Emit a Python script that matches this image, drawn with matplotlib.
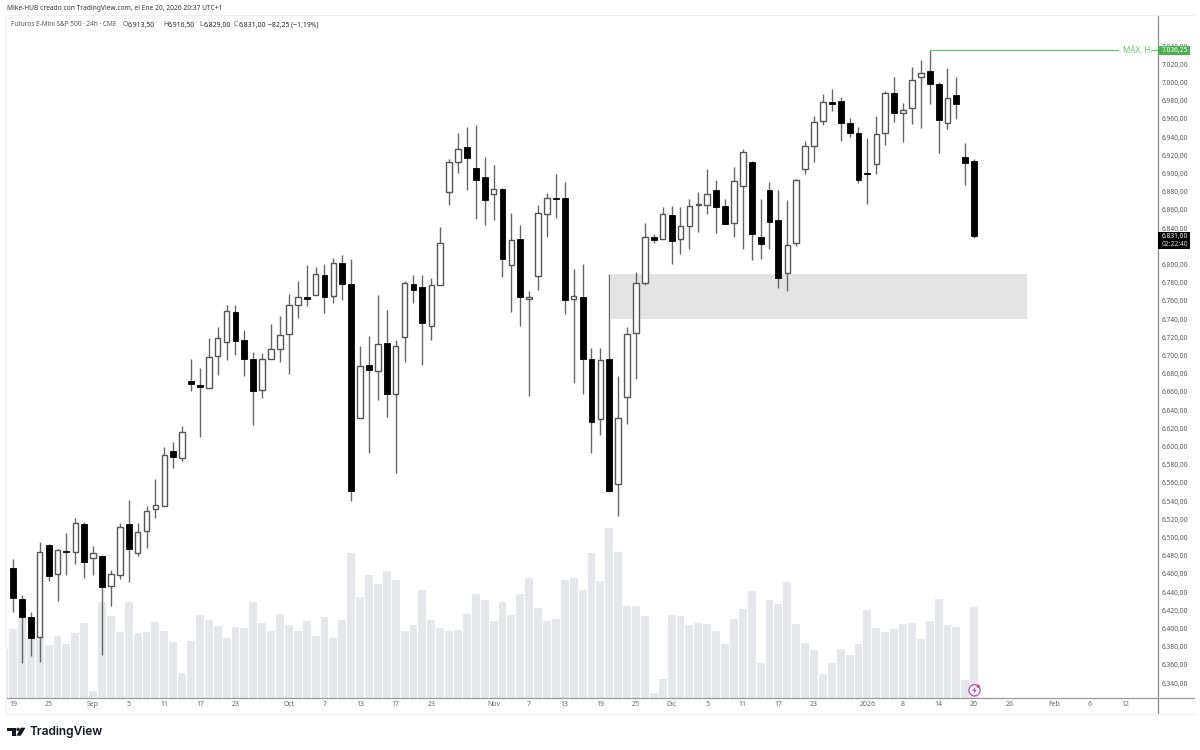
import numpy as np
import matplotlib
matplotlib.use('Agg')
import matplotlib.pyplot as plt
from matplotlib.patches import Rectangle, Polygon, Circle

plt.rcParams['font.family'] = ['Noto Sans', 'DejaVu Sans']

# --- datos (velas diarias, ago 2025 - ene 2026) ---
opens = [6467, 6432, 6413, 6391, 6492, 6460, 6485, 6484, 6515, 6477,
         6480, 6447, 6459, 6515, 6483, 6507, 6531, 6535, 6595, 6587,
         6672, 6668, 6664, 6699, 6715, 6748, 6717, 6696, 6662, 6696,
         6707, 6724, 6756, 6764, 6767, 6788, 6765, 6802, 6779, 6631,
         6690, 6683, 6714, 6658, 6720, 6779, 6775, 6732, 6777, 6880,
         6913, 6929, 6906, 6896, 6877, 6883, 6800, 6828, 6762, 6787,
         6856, 6873, 6873, 6762, 6764, 6696, 6630, 6696, 6559, 6654,
         6725, 6780, 6830, 6828, 6854, 6828, 6842, 6865, 6865, 6882,
         6864, 6846, 6886, 6913, 6830, 6882, 6849, 6791, 6824, 6905,
         6930, 6958, 6979, 6980, 6956, 6945, 6901, 6911, 6945, 6988,
         6967, 6972, 7006, 7013, 6998, 6955, 6986, 6918, 6913.5]
highs = [6476, 6437, 6418, 6495, 6493, 6487, 6505, 6521, 6517, 6491,
         6481, 6464, 6516, 6541, 6516, 6535, 6564, 6599, 6605, 6623,
         6696, 6686, 6719, 6731, 6756, 6755, 6728, 6704, 6703, 6735,
         6743, 6768, 6782, 6800, 6797, 6801, 6807, 6811, 6806, 6710,
         6722, 6766, 6750, 6717, 6782, 6789, 6788, 6785, 6841, 6916,
         6944, 6951, 6953, 6918, 6909, 6884, 6857, 6843, 6771, 6865,
         6879, 6900, 6891, 6795, 6801, 6708, 6708, 6790, 6677, 6731,
         6792, 6846, 6833, 6863, 6864, 6863, 6872, 6880, 6905, 6893,
         6872, 6907, 6927, 6914, 6872, 6891, 6882, 6871, 6894, 6936,
         6963, 6987, 6993, 6984, 6961, 6951, 6939, 6963, 6991, 7006,
         6977, 7017, 7025, 7036.25, 7001, 7016, 7006, 6934, 6916.5]
lows = [6418, 6362, 6370, 6363, 6452, 6430, 6459, 6471, 6455, 6459,
        6371, 6425, 6454, 6451, 6480, 6488, 6521, 6535, 6576, 6584,
        6661, 6610, 6664, 6679, 6695, 6701, 6677, 6624, 6653, 6696,
        6693, 6680, 6741, 6754, 6767, 6747, 6758, 6761, 6540, 6631,
        6593, 6651, 6632, 6571, 6693, 6758, 6690, 6717, 6777, 6865,
        6901, 6882, 6850, 6843, 6849, 6786, 6748, 6733, 6655, 6772,
        6830, 6851, 6746, 6670, 6658, 6593, 6613, 6550, 6524, 6625,
        6674, 6778, 6824, 6828, 6801, 6812, 6817, 6836, 6856, 6835,
        6844, 6830, 6817, 6805, 6806, 6817, 6774, 6771, 6820, 6900,
        6913, 6953, 6969, 6936, 6940, 6890, 6866, 6899, 6931, 6957,
        6935, 6954, 6950, 6976, 6923, 6949, 6960, 6887, 6829]
closes = [6434, 6413, 6390, 6484, 6458, 6486, 6484, 6516, 6473, 6483,
          6446, 6460, 6512, 6487, 6506, 6529, 6536, 6591, 6588, 6616,
          6669, 6665, 6698, 6719, 6749, 6716, 6696, 6661, 6696, 6707,
          6723, 6756, 6764, 6762, 6790, 6764, 6802, 6779, 6551, 6689,
          6684, 6713, 6658, 6710, 6780, 6772, 6736, 6777, 6824, 6913,
          6927, 6917, 6893, 6871, 6883, 6806, 6827, 6764, 6764, 6857,
          6873, 6872, 6761, 6765, 6696, 6627, 6695, 6551, 6631, 6724,
          6780, 6830, 6827, 6856, 6826, 6842, 6864, 6866, 6878, 6863,
          6845, 6892, 6924, 6833, 6823, 6847, 6785, 6822, 6893, 6930,
          6957, 6979, 6976, 6956, 6945, 6893, 6900, 6943, 6988, 6966,
          6970, 7003, 7010, 6998, 6959, 6983, 6976, 6912, 6831]

# volumen en unidades arbitrarias, el primero es la barra cortada del borde
volumen = [49, 69, 82, 60, 62, 53, 62, 54, 65, 75, 7,
           96, 82, 66, 96, 65, 66, 76, 67, 56, 25,
           57, 83, 78, 72, 60, 71, 70, 96, 75, 67,
           84, 73, 67, 77, 62, 81, 60, 78, 145, 101,
           123, 114, 127, 118, 67, 73, 108, 78, 70, 67,
           68, 84, 104, 98, 77, 96, 83, 104, 120, 90,
           77, 79, 118, 120, 108, 145, 117, 170, 146, 92,
           92, 82, 5, 19, 83, 82, 73, 75, 74, 67,
           54, 79, 89, 107, 35, 98, 94, 116, 74, 55,
           48, 24, 35, 49, 43, 54, 88, 70, 66, 69,
           74, 75, 59, 77, 99, 73, 71, 18, 91]

fechas_pos = [0, 4, 9, 13, 17, 21, 25, 31, 35, 39, 43, 47, 54, 58, 62, 66, 70,
              74, 78, 82, 86, 90, 96, 100, 104, 108, 112, 117, 121, 125]
fechas_txt = ['19', '25', 'Sep', '5', '11', '17', '23', 'Oct', '7', '13', '17', '23',
              'Nov', '7', '13', '19', '25', 'Dic', '5', '11', '17', '23', '2026',
              '8', '14', '20', '26', 'Feb', '6', '12']
# 6.820 queda tapado por la etiqueta negra del ultimo precio
precios_eje = [p for p in range(6340, 7041, 20) if p != 6820]

zona_x = [67.15, 113.9]
zona_y = [6740, 6789.6]
maximo = 7036.25
ultimo = 6831

W, H = 1200, 750
def rect_px(x0, y0, x1, y1):
    # caja en pixeles (y desde arriba) a coordenadas de figura
    return [x0 / W, 1 - y1 / H, (x1 - x0) / W, (y1 - y0) / H]

PANE = rect_px(6, 15, 1157.7, 697.7)
XLIM = (-0.787, 128.62)
YLIM = (6324.0, 7074.2)

fig = plt.figure(figsize=(12, 7.5), dpi=100, facecolor='white')

# volumen detras de las velas
ax_vol = fig.add_axes(PANE)
ax_vol.bar(np.arange(-1, len(volumen) - 1), volumen, width=0.88, color='#e6e7ea', linewidth=0)
ax_vol.set_xlim(*XLIM)
ax_vol.set_ylim(0, 682.7)
ax_vol.axis('off')

ax = fig.add_axes(PANE)
ax.patch.set_alpha(0)
ax.set_xlim(*XLIM)
ax.set_ylim(*YLIM)

ax.add_patch(Rectangle((zona_x[0], zona_y[0]), zona_x[1] - zona_x[0], zona_y[1] - zona_y[0],
                       facecolor='#e3e3e3', edgecolor='none', zorder=1))

x = np.arange(len(opens))
o = np.array(opens, dtype=float)
c = np.array(closes, dtype=float)
ax.vlines(x, lows, highs, color='#666666', linewidth=1.0, zorder=2)
sube = c >= o
ax.bar(x[sube], (c - o)[sube], bottom=o[sube], width=0.62, facecolor='white',
       edgecolor='#555555', linewidth=1.0, zorder=3)
ax.bar(x[~sube], (c - o)[~sube], bottom=o[~sube], width=0.66, facecolor='black',
       edgecolor='black', linewidth=0.6, zorder=3)

# linea del maximo
verde = '#6cc070'
ax.plot([103, 124.2], [maximo, maximo], color=verde, linewidth=0.9, zorder=2)
ax.plot([127.9, 128.62], [maximo, maximo], color=verde, linewidth=0.9, zorder=2)

# ejes
for lado in ['top', 'left']:
    ax.spines[lado].set_color('#f0f0f0')
    ax.spines[lado].set_linewidth(0.8)
ax.spines['right'].set_color('#8c8c8c')
ax.spines['bottom'].set_color('#9a9a9a')
ax.spines['right'].set_linewidth(0.9)
ax.spines['bottom'].set_linewidth(0.9)

ax.yaxis.tick_right()
ax.set_yticks(precios_eje)
ax.set_yticklabels([f'{p:,.2f}'.replace(',', ' ').replace('.', ',').replace(' ', '.') for p in precios_eje],
                   fontsize=4.8, color='#555555')
ax.set_xticks(fechas_pos)
ax.set_xticklabels(fechas_txt, fontsize=5, color='#666666')
ax.get_xticklabels()[fechas_txt.index('2026')].set_fontweight('bold')
ax.tick_params(axis='both', length=0)
ax.tick_params(axis='y', pad=3.2)
ax.tick_params(axis='x', pad=2.6)

# capa en pixeles para rotulos y adornos
ov = fig.add_axes([0, 0, 1, 1], zorder=5)
ov.set_xlim(0, W)
ov.set_ylim(H, 0)
ov.axis('off')

ov.plot([1157.7, 1157.7], [697.7, 714], color='#8c8c8c', linewidth=0.9)
ov.plot([1157.7, 1194], [697.7, 697.7], color='#9a9a9a', linewidth=0.9)
ov.plot([6, 1194], [714, 714], color='#f0f0f0', linewidth=0.8)
ov.plot([6, 6], [697.7, 714], color='#f0f0f0', linewidth=0.8)
ov.plot([1157.7, 1194], [15, 15], color='#f0f0f0', linewidth=0.8)

ov.add_patch(Rectangle((1158, 46), 32, 9.3, facecolor='#4caf50', edgecolor='none'))
ov.text(1175, 50.6, '7.036,25', color='white', fontsize=4.8, fontweight='bold', ha='center', va='center')
ov.text(1137.5, 50.2, 'MÁX. H.', color=verde, fontsize=5.8, ha='center', va='center')

ov.add_patch(Rectangle((1158, 232.3), 32, 17, facecolor='black', edgecolor='none'))
ov.text(1175, 236.8, '6.831,00', color='white', fontsize=4.8, fontweight='bold', ha='center', va='center')
ov.text(1175, 244.8, '02:22:40', color='#dddddd', fontsize=4.8, ha='center', va='center')

ov.text(7, 9, 'Mike-HUB creado con TradingView.com, el Ene 20, 2026 20:37 UTC+1',
        fontsize=4.8, color='#333333', va='center')
ov.text(11, 25, 'Futuros E-Mini S&P 500 · 24h · CME', fontsize=4.65, color='#555555', va='center')
for xp, letra, valor in [(122.7, 'O', '6.913,50'), (163, 'H', '6.916,50'),
                         (199, 'L', '6.829,00'), (234, 'C', '6.831,00')]:
    ov.text(xp, 25, letra, fontsize=4.9, color='#555555', va='center')
    ov.text(xp + 4.5, 25, valor, fontsize=4.9, color='#222222', va='center', fontweight='bold')
ov.text(268, 25, '−82,25 (−1,19%)', fontsize=4.9, color='#222222', va='center', fontweight='bold')

# icono del rayo
morado = '#c24fd0'
ov.add_patch(Circle((974.5, 690.3), 5.6, facecolor='white', edgecolor=morado, linewidth=1.0))
ov.add_patch(Polygon([(975.6, 686.6), (972, 691), (974.3, 691), (973.4, 694), (977, 689.6), (974.7, 689.6)],
                     closed=True, facecolor=morado, edgecolor='none'))
ov.add_patch(Circle((978.3, 686.3), 1.5, facecolor='#f23645', edgecolor='none'))

# logo
negro = '#131722'
ov.add_patch(Polygon([(7, 727.7), (15.5, 727.7), (15.5, 735.7), (11.5, 735.7), (11.5, 731), (7, 731)],
                     closed=True, facecolor=negro, edgecolor='none'))
ov.add_patch(Circle((18, 729.4), 1.7, facecolor=negro, edgecolor='none'))
ov.add_patch(Polygon([(20.8, 727.7), (25.5, 727.7), (20.8, 735.7), (16.3, 735.7)],
                     closed=True, facecolor=negro, edgecolor='none'))
ov.text(29, 731.6, 'TradingView', fontsize=8.6, color=negro, fontweight='semibold', va='center',
        family=['Inter', 'DejaVu Sans'])

fig.savefig('out.png', dpi=100)
